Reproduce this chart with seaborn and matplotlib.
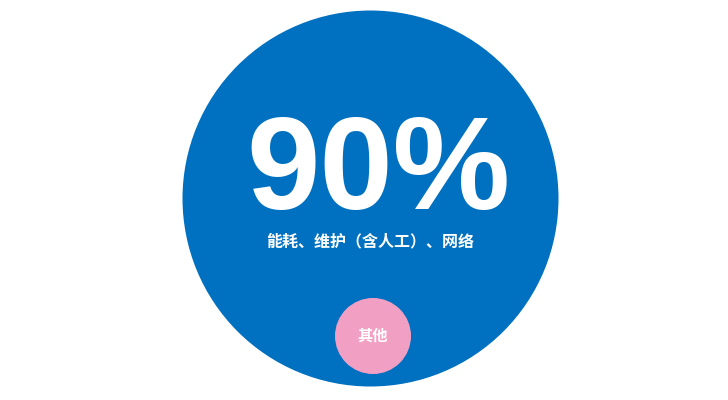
import matplotlib
matplotlib.use("Agg")
import matplotlib.pyplot as plt
import seaborn as sns
import pandas as pd

# data
categories = ["能耗、维护（含人工）、网络", "其他"]
shares = [90, 10]
share_labels = ["90%", ""]
bubble_colors = ["#0070C0", "#F29FC4"]

# layout (pixel coordinates, figure is 728x400)
pos_x = [370.5, 373]
pos_y = [198.5, 336]
diam_px = [376, 76]

sns.set_theme(style="white")
plt.rcParams["font.family"] = ["Noto Sans CJK SC", "DejaVu Sans"]

fig = plt.figure(figsize=(7.28, 4.0), dpi=100)
ax = fig.add_axes([0, 0, 1, 1])

df = pd.DataFrame({"cat": categories, "share": shares, "x": pos_x, "y": pos_y})
# marker area in pt^2 from pixel diameter
size_map = {c: (d * 72 / 100) ** 2 for c, d in zip(categories, diam_px)}
sns.scatterplot(data=df, x="x", y="y", hue="cat", size="cat",
                sizes=size_map, palette=dict(zip(categories, bubble_colors)),
                linewidth=0, alpha=1, legend=False, ax=ax)

ax.set_xlim(0, 728)
ax.set_ylim(400, 0)
ax.set_axis_off()

big = df.iloc[0]
ax.text(big["x"] + 8, 174, share_labels[0], color="white", fontsize=95,
        fontweight="bold", family=["Liberation Sans", "DejaVu Sans"],
        ha="center", va="center")
ax.text(big["x"], 241, categories[0], color="white", fontsize=11.5,
        fontweight="bold", ha="center", va="center")
small = df.iloc[1]
ax.text(small["x"], small["y"], categories[1], color="white", fontsize=11,
        fontweight="bold", ha="center", va="center")

fig.savefig("out.png", dpi=100)
